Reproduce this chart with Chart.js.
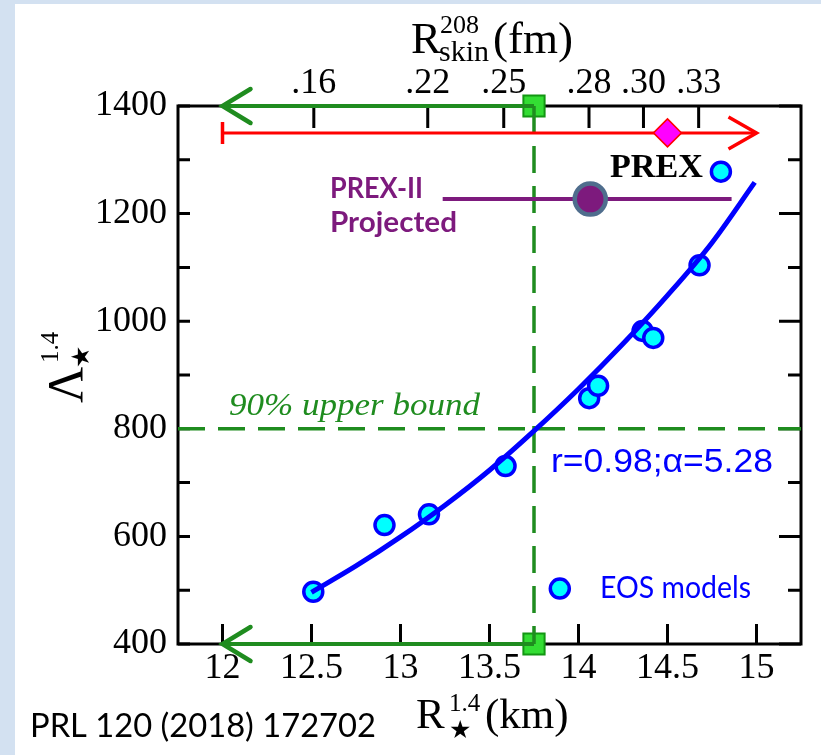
<!DOCTYPE html>
<html>
<head>
<meta charset="UTF-8">
<title>Lambda vs R</title>
<script src="https://cdn.jsdelivr.net/npm/chart.js"></script>
<style>
html,body{margin:0;padding:0;background:#fff;}
#wrap{width:821px;height:755px;}
</style>
</head>
<body>
<div id="wrap"><canvas id="myChart" width="821" height="755"></canvas></div>
<script>
// EOS models: radius (km) and tidal deformability
const eosR      = [12.51, 12.91, 13.16, 13.59, 14.06, 14.11, 14.36, 14.42, 14.68, 14.80];
const eosLambda = [497, 621, 641, 731, 857, 880, 982, 969, 1104, 1278];
// fit curve
const fitR      = [12.5, 12.75, 13.0, 13.25, 13.5, 13.75, 14.0, 14.25, 14.5, 14.75, 14.99];
const fitLambda = [496, 545, 599, 658, 723, 796, 874, 958, 1048, 1146, 1258];
// legend marker
const legendR = [13.895], legendLambda = [503];
// bound lines
const boundR = 13.75, boundLambda = 800;
const arrowR = [13.75, 12.0];
const axisLambda = [400, 1400];
// PREX (red) and PREX-II projected (purple)
const prexR = [12.0, 15.0], prexLambda = 1350, prexCentral = 14.5;
const prex2R = [13.237, 14.86], prex2Lambda = 1227, prex2Central = 14.066;
// ticks
const xTicks = [12, 12.5, 13, 13.5, 14, 14.5, 15];
const xTickLabels = ['12', '12.5', '13', '13.5', '14', '14.5', '15'];
const yTicks = [400, 600, 800, 1000, 1200, 1400];
const yMinor = [500, 700, 900, 1100, 1300];
const topTickR = [12.513, 13.153, 13.58, 14.059, 14.365, 14.675];
const topTickLabels = ['.16', '.22', '.25', '.28', '.30', '.33'];

const GREEN = '#1f8c1f', BLUE = '#0000ff', PURPLE = '#7d1a7d', SERIF = "'Liberation Serif', serif";

function pts(xs, ys) { return xs.map((x, i) => ({x: x, y: Array.isArray(ys) ? ys[i] : ys})); }

function fitText(ctx, txt, x, y, font, color, w) {
	ctx.save();
	ctx.font = font; ctx.fillStyle = color; ctx.textAlign = 'left'; ctx.textBaseline = 'alphabetic';
	const m = ctx.measureText(txt).width;
	ctx.translate(x, y);
	if (w) ctx.scale(w / m, 1);
	ctx.fillText(txt, 0, 0);
	ctx.restore();
}

const deco = {
	id: 'deco',
	beforeDraw(chart) {
		const ctx = chart.ctx;
		ctx.save();
		ctx.fillStyle = '#d3e1f1';
		ctx.fillRect(0, 0, chart.width, chart.height);
		ctx.fillStyle = '#fff';
		ctx.fillRect(15, 4, chart.width - 15, chart.height - 4);
		ctx.restore();
	},
	beforeDatasetsDraw(chart) {
		const ctx = chart.ctx, a = chart.chartArea, sx = chart.scales.x, sy = chart.scales.y;
		ctx.save();
		ctx.strokeStyle = '#000'; ctx.lineWidth = 3;
		ctx.strokeRect(a.left, a.top, a.right - a.left, a.bottom - a.top);
		ctx.beginPath();
		xTicks.forEach(v => {
			const px = sx.getPixelForValue(v);
			ctx.moveTo(px, a.bottom); ctx.lineTo(px, a.bottom - 20);
		});
		topTickR.forEach(v => {
			const px = sx.getPixelForValue(v);
			ctx.moveTo(px, a.top); ctx.lineTo(px, a.top + 22);
		});
		yTicks.concat(yMinor).forEach(v => {
			const py = sy.getPixelForValue(v);
			ctx.moveTo(a.left, py); ctx.lineTo(a.left + 12, py);
			const len = yMinor.includes(v) ? 13 : 22;
			ctx.moveTo(a.right, py); ctx.lineTo(a.right - len, py);
		});
		ctx.stroke();
		ctx.restore();
	},
	afterDatasetsDraw(chart) {
		const ctx = chart.ctx, sx = chart.scales.x, sy = chart.scales.y;
		ctx.save();
		// green arrow heads
		ctx.strokeStyle = GREEN; ctx.lineWidth = 4.5; ctx.lineCap = 'round';
		axisLambda.forEach(l => {
			const tx = sx.getPixelForValue(arrowR[1]), ty = sy.getPixelForValue(l);
			ctx.beginPath();
			ctx.moveTo(tx + 28, ty - 17); ctx.lineTo(tx, ty); ctx.lineTo(tx + 28, ty + 17);
			ctx.stroke();
		});
		// red arrow and end bar
		ctx.strokeStyle = '#ff0000'; ctx.lineWidth = 3.5; ctx.lineCap = 'butt';
		const ry = sy.getPixelForValue(prexLambda);
		const rl = sx.getPixelForValue(prexR[0]), rr = sx.getPixelForValue(prexR[1]);
		ctx.beginPath();
		ctx.moveTo(rl, ry - 11); ctx.lineTo(rl, ry + 11);
		ctx.moveTo(rr - 28, ry - 16); ctx.lineTo(rr, ry); ctx.lineTo(rr - 28, ry + 16);
		ctx.stroke();
		ctx.restore();

		// text
		fitText(ctx, 'PREX', 610, 177, 'bold 33px ' + SERIF, '#000', 93);
		fitText(ctx, 'PREX-II', 330, 198, 'bold 28px Lato', PURPLE, 93);
		fitText(ctx, 'Projected', 330, 232, 'bold 28px Lato', PURPLE, 127);
		fitText(ctx, '90% upper bound', 229, 415, 'italic 32px ' + SERIF, GREEN, 251);
		fitText(ctx, 'r=0.98;\u03b1=5.28', 551, 472, "33px 'Liberation Sans'", BLUE, 222);
		fitText(ctx, 'EOS models', 600, 598, '31px Lato', BLUE, 151);
		fitText(ctx, 'PRL 120 (2018) 172702', 30, 737, '33px Lato', '#000', 346);

		// top title R_skin^208 (fm)
		fitText(ctx, 'R', 411, 53, '45px ' + SERIF, '#000');
		fitText(ctx, '208', 440, 33, '26px ' + SERIF, '#000');
		fitText(ctx, 'skin', 439, 61, '30px ' + SERIF, '#000');
		fitText(ctx, '(fm)', 493, 53, '45px ' + SERIF, '#000');
		// bottom title R*^1.4 (km)
		fitText(ctx, 'R', 416, 728, '43px ' + SERIF, '#000');
		fitText(ctx, '1.4', 449, 711, '25px ' + SERIF, '#000');
		fitText(ctx, '\u2605', 449, 738, "25px 'DejaVu Sans'", '#000');
		fitText(ctx, '(km)', 485, 728, '43px ' + SERIF, '#000');
		// left title Lambda*^1.4
		ctx.save();
		ctx.translate(82, 403);
		ctx.rotate(-Math.PI / 2);
		fitText(ctx, '\u039b', 0, 0, '50px ' + SERIF, '#000');
		fitText(ctx, '1.4', 40, -24, '25px ' + SERIF, '#000');
		fitText(ctx, '\u2605', 35, 7, "25px 'DejaVu Sans'", '#000');
		ctx.restore();
	}
};

const ctx = document.getElementById('myChart');
new Chart(ctx, {
	type: 'scatter',
	data: {
		datasets: [
			{ data: pts(fitR, fitLambda), showLine: true, borderColor: BLUE, borderWidth: 5, pointRadius: 0, cubicInterpolationMode: 'monotone' },
			{ data: pts(eosR, eosLambda), pointRadius: 9.5, backgroundColor: '#00ffff', borderColor: BLUE, borderWidth: 3.5 },
			{ data: pts(legendR, legendLambda), pointRadius: 9.5, backgroundColor: '#00ffff', borderColor: BLUE, borderWidth: 3.5 },
			{ data: pts([prex2Central], prex2Lambda), pointRadius: 15.5, backgroundColor: PURPLE, borderColor: '#4f6d8d', borderWidth: 4.5 },
			{ data: pts(prex2R, prex2Lambda), showLine: true, borderColor: PURPLE, borderWidth: 4, pointRadius: 0 },
			{ data: pts([prexCentral], prexLambda), pointStyle: 'rectRot', pointRadius: 14, backgroundColor: '#ff00ff', borderColor: '#ff0000', borderWidth: 1.5 },
			{ data: pts(prexR, prexLambda), showLine: true, borderColor: '#ff0000', borderWidth: 3, pointRadius: 0, clip: false },
			{ data: pts([boundR, boundR], axisLambda.slice().reverse()), showLine: true, borderColor: GREEN, borderWidth: 3.5, borderDash: [27, 13], pointRadius: 0, clip: false },
			{ data: pts([11.75, 15.25], boundLambda), showLine: true, borderColor: GREEN, borderWidth: 3.5, borderDash: [27, 13], pointRadius: 0, clip: false },
			{ data: pts(arrowR, axisLambda[1]), showLine: true, borderColor: GREEN, borderWidth: 4, pointRadius: 0, clip: false },
			{ data: pts(arrowR, axisLambda[0]), showLine: true, borderColor: GREEN, borderWidth: 4, pointRadius: 0, clip: false },
			{ data: pts([boundR, boundR], axisLambda), pointStyle: 'rect', pointRadius: 15, backgroundColor: '#33dd33', borderColor: '#139613', borderWidth: 2, clip: false }
		]
	},
	options: {
		responsive: false,
		devicePixelRatio: 1,
		animation: false,
		events: [],
		layout: { padding: { left: 0, right: 15, top: 0, bottom: 0 } },
		plugins: { legend: { display: false }, tooltip: { enabled: false } },
		scales: {
			x: {
				type: 'linear', position: 'bottom', min: 11.75, max: 15.25,
				afterBuildTicks: s => { s.ticks = xTicks.map(v => ({value: v})); },
				afterFit: s => { s.height = 111; },
				grid: { display: false, drawTicks: false }, border: { display: false },
				ticks: { callback: (v, i) => xTickLabels[i], font: { family: SERIF, size: 36 }, color: '#000', padding: 3, maxRotation: 0, autoSkip: false }
			},
			x2: {
				type: 'linear', position: 'top', min: 11.75, max: 15.25,
				afterBuildTicks: s => { s.ticks = topTickR.map(v => ({value: v})); },
				afterFit: s => { s.height = 106; },
				grid: { display: false, drawTicks: false }, border: { display: false },
				ticks: { callback: (v, i) => topTickLabels[i], font: { family: SERIF, size: 36 }, color: '#000', padding: 1, maxRotation: 0, autoSkip: false }
			},
			y: {
				type: 'linear', position: 'left', min: 400, max: 1400,
				afterBuildTicks: s => { s.ticks = yTicks.map(v => ({value: v})); },
				afterFit: s => { s.width = 178; },
				grid: { display: false, drawTicks: false }, border: { display: false },
				ticks: { callback: v => String(v), font: { family: SERIF, size: 36 }, color: '#000', padding: 11 }
			}
		}
	},
	plugins: [deco]
});
</script>
</body>
</html>
